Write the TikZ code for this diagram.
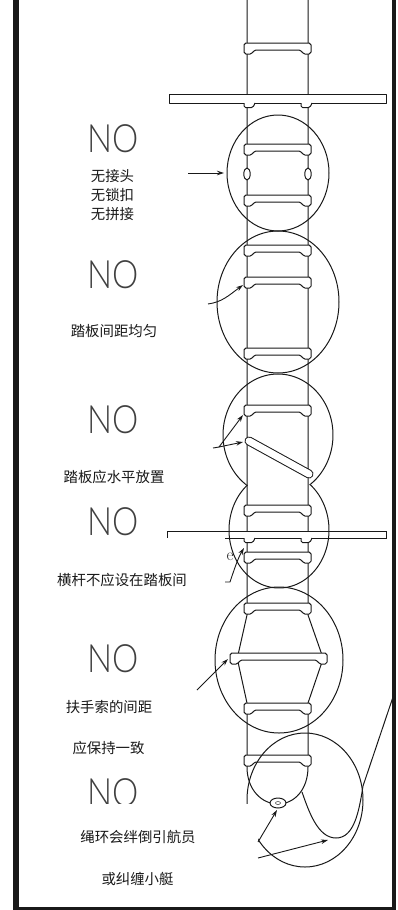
\documentclass[tikz,border=0pt]{standalone}
\usepackage{fontspec}
\newfontfamily\cjk{Noto Sans CJK SC}
\newfontfamily\nofont{Lato Light}
\usetikzlibrary{arrows.meta}

% one rung: left x, right x, top y (y grows downward)
\newcommand\rungat[3]{%
  \draw[rungline, rounded corners=1.8pt] (#1,#3) -- (#2,#3) -- (#2,{#3+11})
    -- ({#2-8},{#3+11}) -- ({#2-10},{#3+7}) -- ({#1+10},{#3+7})
    -- ({#1+8},{#3+11}) -- (#1,{#3+11}) -- cycle;}
% small tab under a spreader bar
\newcommand\tabat[2]{%
  \draw[rungline, rounded corners=1.5pt] (#1,#2) -- (#1,{#2+4.5}) -- ({#1+9},{#2+4.5}) -- ({#1+11},#2);}

\begin{document}
\begin{tikzpicture}[x=1pt,y=-1pt,
  ln/.style={line width=1pt, draw=black!90},
  rungline/.style={ln, fill=white, line join=round},
  ptr/.style={line width=0.9pt, draw=black!90, -{Stealth[length=7pt,width=4.5pt]}},
  nolabel/.style={font=\nofont\fontsize{39}{39}\selectfont, text=black!75,
    xscale=0.85, inner sep=0, anchor=base},
  note/.style={font=\cjk\fontsize{14.4}{19}\selectfont, align=center,
    inner sep=0, text=black!90},
  frame/.style={draw=black!90}]

\useasboundingbox (0,0) rectangle (398,910);

% side rails, splayed around the wide step, closing in a bulb at the foot
\draw[ln] (247,0) -- (247,615) -- (238,655) -- (238,662) -- (247,703) -- (247,767)
  .. controls (247,790) and (262,804) .. (278,804)
  .. controls (294,804) and (308,790) .. (308,767)
  -- (308,703) -- (322,662) -- (322,655) -- (308,615) -- (308,0);

% rungs
\foreach \yy in {43,144,195,245,277,348,405,505,552,603,703,755}
  {\rungat{244}{311}{\yy}}
\rungat{230}{327}{653}

% upper spreader bar
\draw[rungline] (169,94) rectangle (386,103);
\tabat{244}{103}
\tabat{301}{103}

% lower spreader bar
\fill[white] (167,531) rectangle (386,538);
\draw[ln] (225,538) -- (386,538) -- (386,531) -- (167,531) -- (167,538);
\tabat{244}{538}
\tabat{301}{538}

% joints on the rails
\draw[rungline] (247,174) ellipse [x radius=3.2pt, y radius=6pt];
\draw[rungline] (308,174) ellipse [x radius=3.2pt, y radius=6pt];

% tilted rung
\draw[line width=1pt, draw=black!90, double=white, double distance=7pt, line cap=round]
  (249,441) -- (309,474);

% rope ring at the foot and the loose loop
\draw[rungline] (278,803) ellipse [x radius=8pt, y radius=5pt];
\draw[line width=0.5pt, draw=black!80] (278,803) ellipse [x radius=2.5pt, y radius=1.5pt];
\draw[ln] (302,792) .. controls (309,812) and (318,838) .. (336,838)
  .. controls (354,838) and (359,812) .. (363,786) -- (393,697);

% highlight circles
\draw[ln] (278,173) ellipse [x radius=51pt, y radius=58pt];
\draw[ln] (278,302) ellipse [x radius=61pt, y radius=71pt];
\draw[ln] plot[domain=125:415, samples=120, smooth] ({278+55*cos(\x)}, {435+61*sin(\x)});
\draw[ln] plot[domain=-51:231, samples=120, smooth] ({279+50*cos(\x)}, {530+58*sin(\x)});
\draw[ln] (279,660) ellipse [x radius=64pt, y radius=73pt];
\draw[ln] (305,800) ellipse [x radius=58pt, y radius=67pt];

% NO marks
\node[nolabel] (no1) at (113,152) {NO};
\node[nolabel] (no2) at (113,288) {NO};
\node[nolabel] (no3) at (113,433) {NO};
\node[nolabel] (no4) at (113,535) {NO};
\node[nolabel] (no5) at (113,672) {NO};
\node[nolabel] (no6) at (113,806) {NO};

% label ground at the foot
\fill[white] (22,803.5) rectangle (257.5,900);

% pointers
\coordinate (a1s) at (188,173);  \coordinate (a1e) at (224,173);
\draw[ptr] (a1s) -- (a1e);
\coordinate (a2s) at (208,304);  \coordinate (a2e) at (243,285);
\draw[ptr] (a2s) .. controls (222,302) and (228,296) .. (a2e);
\coordinate (a3s) at (213,448);  \coordinate (a3j) at (219,447);
\coordinate (a3u) at (243,415);  \coordinate (a3d) at (243,442);
\draw[ln, line width=0.9pt] (a3s) -- (a3j);
\draw[ptr] (a3j) -- (a3u);
\draw[ptr] (a3j) -- (a3d);
\coordinate (a4s) at (225,582);  \coordinate (a4j) at (230,582);
\coordinate (a4e) at (244,548);
\draw[ptr] (a4s) -- (a4j) .. controls (234,570) and (238,558) .. (a4e);
\node[font=\fontsize{17}{17}\selectfont, inner sep=0, text=black!80] (emark) at (230,557) {e};
\coordinate (a5s) at (197,690);  \coordinate (a5e) at (228,659);
\draw[ptr] (a5s) -- (a5e);
\coordinate (a6s) at (258,842);  \coordinate (a6e) at (277,810);
\draw[ptr] (a6s) -- (a6e);
\coordinate (a7s) at (258,858);  \coordinate (a7e) at (328,840);
\draw[ptr] (a7s) -- (a7e);

% notes
\node[note] (t1) at (112.5,195.5) {无接头\\无锁扣\\无拼接};
\node[note] (t2) at (114,331) {踏板间距均匀};
\node[note] (t3) at (114,477) {踏板应水平放置};
\node[note] (t4) at (122,580) {横杆不应设在踏板间};
\node[note] (t5) at (109,707) {扶手索的间距};
\node[note] (t6) at (108.5,748.5) {应保持一致};
\node[note] (t7) at (138,837) {绳环会绊倒引航员};
\node[note] (t8) at (137.5,878.5) {或纠缠小艇};

% frame
\draw[frame, line width=5.5pt] (16,0) -- (16,909.5);
\draw[frame, line width=4pt] (394,0) -- (394,909.5);
\draw[frame, line width=3pt] (13.3,908) -- (396,908);
\end{tikzpicture}
\end{document}
